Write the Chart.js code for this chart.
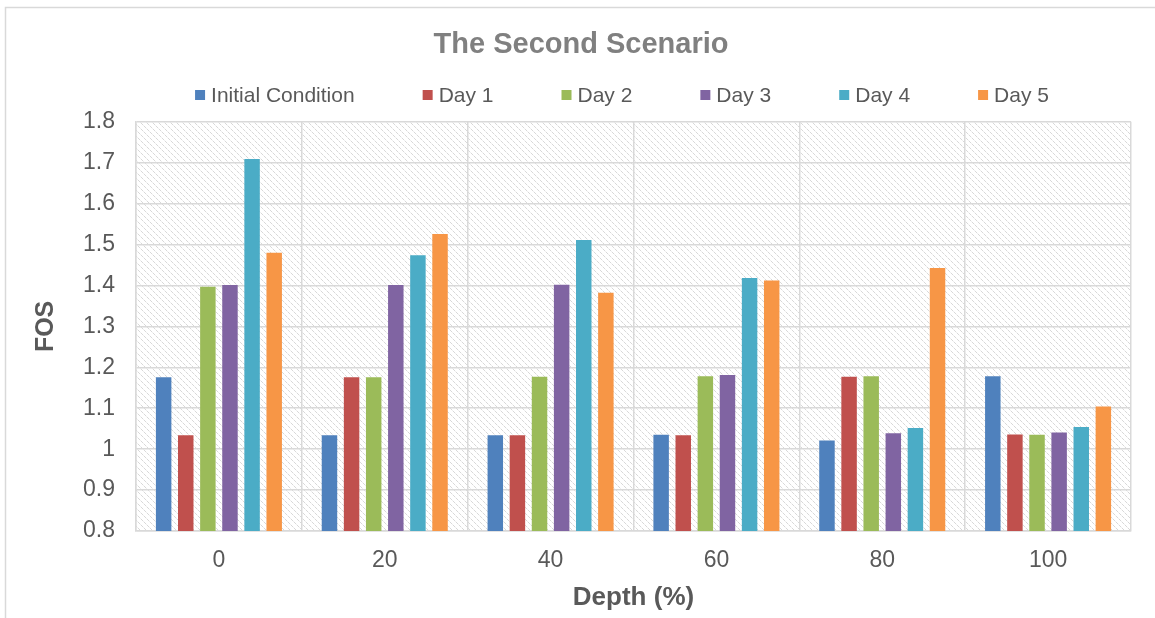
<!DOCTYPE html>
<html>
<head>
<meta charset="utf-8">
<script src="https://cdn.jsdelivr.net/npm/chart.js@4.4.1/dist/chart.umd.min.js"></script>
<style>
  html, body { margin: 0; padding: 0; background: #ffffff; }
  #wrap { width: 1155px; height: 618px; position: relative; }
</style>
</head>
<body>
<div id="wrap"><canvas id="fos"></canvas></div>
<script>
// Depth categories (x axis)
const depths = ['0', '20', '40', '60', '80', '100'];

// Series names
const seriesNames = ['Initial Condition', 'Day 1', 'Day 2', 'Day 3', 'Day 4', 'Day 5'];

// Factor of safety per depth, one array per series
const initialCondition = [1.176, 1.034, 1.034, 1.035, 1.021, 1.178];
const day1 = [1.034, 1.176, 1.034, 1.034, 1.177, 1.036];
const day2 = [1.397, 1.176, 1.177, 1.178, 1.178, 1.035];
const day3 = [1.401, 1.401, 1.402, 1.181, 1.039, 1.041];
const day4 = [1.709, 1.474, 1.511, 1.418, 1.052, 1.054];
const day5 = [1.480, 1.526, 1.382, 1.412, 1.443, 1.104];

// Value axis range and step
const yMin = 0.8;
const yMax = 1.8;
const yStep = 0.1;

const seriesValues = [initialCondition, day1, day2, day3, day4, day5];
const seriesColors = ['#4f81bd', '#c0504d', '#9bbb59', '#8064a2', '#4bacc6', '#f79646'];

const FONT = '"Liberation Sans", Arial, sans-serif';
const TEXT_GREY = '#595959';
const GRID_GREY = '#d9d9d9';

// Light diagonal hatch used as the plot-area fill
function makeHatch() {
  const c = document.createElement('canvas');
  c.width = 6; c.height = 6;
  const g = c.getContext('2d');
  g.fillStyle = '#ffffff';
  g.fillRect(0, 0, 6, 6);
  for (let i = 0; i < 6; i++) {
    g.fillStyle = (i % 3 === 2) ? '#eeeeee' : '#d8d8d8';
    g.fillRect(i, i, 1, 1);
  }
  return g.createPattern(c, 'repeat');
}

// Outer frame and hatched plot background
const backdrop = {
  id: 'backdrop',
  beforeDraw(chart) {
    const { ctx, chartArea: a } = chart;
    ctx.save();
    ctx.strokeStyle = '#d9d9d9';
    ctx.lineWidth = 1.5;
    ctx.strokeRect(5.5, 7.5, chart.width + 20, chart.height + 20);
    ctx.fillStyle = makeHatch();
    ctx.fillRect(a.left, a.top, a.right - a.left, a.bottom - a.top);
    ctx.restore();
  }
};

// Single-row legend with wide, even spacing between entries
const rowLegend = {
  id: 'rowLegend',
  afterDraw(chart, args, opts) {
    const { ctx } = chart;
    const sets = chart.data.datasets;
    ctx.save();
    ctx.font = `${opts.fontSize}px ${FONT}`;
    ctx.textBaseline = 'middle';
    ctx.textAlign = 'left';
    const widths = sets.map(d => opts.box + opts.boxGap + ctx.measureText(d.label).width);
    const total = widths.reduce((s, w) => s + w, 0) + opts.itemGap * (sets.length - 1);
    let x = opts.centerX - total / 2;
    sets.forEach((d, i) => {
      ctx.fillStyle = d.backgroundColor;
      ctx.fillRect(x, opts.y - opts.box / 2, opts.box, opts.box);
      ctx.fillStyle = TEXT_GREY;
      ctx.fillText(d.label, x + opts.box + opts.boxGap, opts.y + 1);
      x += widths[i] + opts.itemGap;
    });
    ctx.restore();
  }
};

const datasets = seriesNames.map((name, i) => ({
  label: name,
  data: seriesValues[i],
  backgroundColor: seriesColors[i],
  borderWidth: 0,
  categoryPercentage: 0.8,
  barPercentage: 0.7
}));

new Chart(document.getElementById('fos'), {
  type: 'bar',
  data: { labels: depths, datasets },
  plugins: [backdrop, rowLegend],
  options: {
    responsive: true,
    maintainAspectRatio: false,
    animation: false,
    layout: { padding: { left: 31, right: 24, top: 0, bottom: 0 } },
    plugins: {
      legend: { display: false },
      tooltip: { enabled: false },
      title: {
        display: true,
        text: 'The Second Scenario',
        color: '#808080',
        font: { family: FONT, size: 29, weight: 'bold' },
        padding: { top: 28, bottom: 59 }
      },
      rowLegend: { fontSize: 21, box: 10, boxGap: 6, itemGap: 68, centerX: 622, y: 95 }
    },
    scales: {
      x: {
        grid: { color: GRID_GREY, lineWidth: 1.5, drawTicks: false, offset: true },
        border: { color: GRID_GREY, width: 1.5 },
        ticks: { color: TEXT_GREY, font: { family: FONT, size: 23 }, padding: 16 },
        title: {
          display: true,
          text: 'Depth (%)',
          color: TEXT_GREY,
          font: { family: FONT, size: 26, weight: 'bold' },
          padding: { top: 0, bottom: 5 }
        },
        afterFit(scale) { scale.height = 87; }
      },
      y: {
        min: yMin,
        max: yMax,
        grid: { color: GRID_GREY, lineWidth: 1.5, drawTicks: false },
        border: { color: GRID_GREY, width: 1.5 },
        ticks: {
          stepSize: yStep,
          color: TEXT_GREY,
          font: { family: FONT, size: 23 },
          padding: 21,
          callback: v => String(Math.round(v * 10) / 10)
        },
        title: {
          display: true,
          text: 'FOS',
          color: TEXT_GREY,
          font: { family: FONT, size: 25, weight: 'bold' },
          padding: { top: 0, bottom: 0 }
        },
        afterFit(scale) { scale.width = 105; }
      }
    }
  }
});
</script>
</body>
</html>
